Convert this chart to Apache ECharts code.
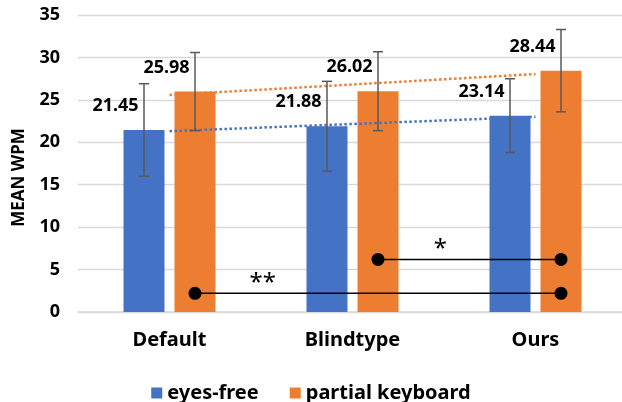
<!DOCTYPE html>
<html>
<head>
<meta charset="utf-8">
<script src="https://cdn.jsdelivr.net/npm/echarts@6/dist/echarts.min.js"></script>
<style>
  html, body { margin: 0; padding: 0; background: #fff; }
  #chart { width: 622px; height: 402px; }
</style>
</head>
<body>
<div id="chart"></div>
<script>
const categories = ['Default', 'Blindtype', 'Ours']
const eyesFree = [21.45, 21.88, 23.14]
const partialKeyboard = [25.98, 26.02, 28.44]
const eyesFreeErr = [5.45, 5.3, 4.35]
const partialErr = [4.6, 4.65, 4.85]
// linear trend end points
const eyesFreeTrend = [21.31, null, 23.0]
const partialTrend = [25.58, null, 28.04]
// [from category, to category, y value, star position in category units]
const sigPairs = [[0, 2, 2.2, 0.51], [1, 2, 6.2, 1.48]]
const sigMarks = ['**', '*']

const BLUE = '#4472C4'
const ORANGE = '#ED7D31'
const BAR_W = 41
const BAR_GAP = 10
const SHIFT = (BAR_W + BAR_GAP) / 2
const FONT = '"Noto Sans", sans-serif'

const chart = echarts.init(document.getElementById('chart'))

function errorBars(shift) {
  return function (params, api) {
    const i = api.value(0)
    const x = api.coord([i, 0])[0] + shift
    const lo = api.coord([i, api.value(1)])[1]
    const hi = api.coord([i, api.value(2)])[1]
    const style = { stroke: '#595959', lineWidth: 1.5 }
    return {
      type: 'group',
      children: [
        { type: 'line', shape: { x1: x, y1: lo, x2: x, y2: hi }, style },
        { type: 'line', shape: { x1: x - 5, y1: hi, x2: x + 5, y2: hi }, style },
        { type: 'line', shape: { x1: x - 5, y1: lo, x2: x + 5, y2: lo }, style }
      ]
    }
  }
}

function sigBracket(params, api) {
  const y = api.value(2)
  const a = api.coord([api.value(0), y])
  const b = api.coord([api.value(1), y])
  const c0 = api.coord([0, y])[0]
  const c1 = api.coord([1, y])[0]
  const ax = a[0] + SHIFT
  const bx = b[0] + SHIFT
  const starX = c0 + api.value(3) * (c1 - c0)
  return {
    type: 'group',
    children: [
      { type: 'line', shape: { x1: ax, y1: a[1], x2: bx, y2: b[1] }, style: { stroke: '#000', lineWidth: 1.5 } },
      { type: 'circle', shape: { cx: ax, cy: a[1], r: 6.5 }, style: { fill: '#000' } },
      { type: 'circle', shape: { cx: bx, cy: b[1], r: 6.5 }, style: { fill: '#000' } },
      {
        type: 'text',
        x: starX,
        y: a[1] - 10,
        style: {
          text: sigMarks[params.dataIndex],
          fontSize: 24,
          fontFamily: FONT,
          fill: '#000',
          align: 'center',
          verticalAlign: 'middle'
        }
      }
    ]
  }
}

const barLabel = {
  show: true,
  position: 'top',
  offset: [-28.5, -10],
  fontSize: 18,
  fontWeight: 'bold',
  fontFamily: FONT,
  color: '#000',
  formatter: p => p.value.toFixed(2)
}

chart.setOption({
  animation: false,
  textStyle: { fontFamily: FONT },
  grid: { left: 78, right: -5, top: 15, bottom: 90, outerBoundsMode: 'none' },
  legend: {
    data: ['eyes-free', 'partial keyboard'],
    top: 378,
    left: 'center',
    icon: 'rect',
    itemWidth: 11,
    itemHeight: 11,
    itemGap: 31,
    textStyle: { fontSize: 20, fontWeight: 'bold', color: '#000', fontFamily: FONT }
  },
  xAxis: {
    type: 'category',
    data: categories,
    axisTick: { show: false },
    axisLine: { lineStyle: { color: '#d9d9d9', width: 1.5 } },
    axisLabel: { fontSize: 20, fontWeight: 'bold', color: '#000', margin: 18, fontFamily: FONT }
  },
  yAxis: {
    type: 'value',
    min: 0,
    max: 35,
    interval: 5,
    name: 'MEAN WPM',
    nameLocation: 'middle',
    nameGap: 50,
    nameTextStyle: { fontSize: 17, fontWeight: 'bold', color: '#000', fontFamily: FONT, padding: [0, 28, 0, 0] },
    axisLabel: { fontSize: 18, fontWeight: 'bold', color: '#000', margin: 18, fontFamily: FONT },
    splitLine: { lineStyle: { color: '#d9d9d9', width: 1.3 } }
  },
  series: [
    {
      name: 'eyes-free',
      type: 'bar',
      data: eyesFree,
      barWidth: BAR_W,
      barGap: (BAR_GAP / BAR_W * 100) + '%',
      itemStyle: { color: BLUE },
      label: barLabel,
      z: 2
    },
    {
      name: 'partial keyboard',
      type: 'bar',
      data: partialKeyboard,
      barWidth: BAR_W,
      itemStyle: { color: ORANGE },
      label: barLabel,
      z: 2
    },
    {
      type: 'line',
      data: eyesFreeTrend,
      connectNulls: true,
      symbol: 'none',
      lineStyle: { color: BLUE, width: 2.5, type: [2.5, 2.5] },
      z: 3
    },
    {
      type: 'line',
      data: partialTrend,
      connectNulls: true,
      symbol: 'none',
      lineStyle: { color: ORANGE, width: 2.5, type: [2.5, 2.5] },
      z: 3
    },
    {
      type: 'custom',
      renderItem: errorBars(-SHIFT),
      data: eyesFree.map((v, i) => [i, v - eyesFreeErr[i], v + eyesFreeErr[i]]),
      encode: { x: 0, y: [1, 2] },
      z: 4
    },
    {
      type: 'custom',
      renderItem: errorBars(SHIFT),
      data: partialKeyboard.map((v, i) => [i, v - partialErr[i], v + partialErr[i]]),
      encode: { x: 0, y: [1, 2] },
      z: 4
    },
    {
      type: 'custom',
      renderItem: sigBracket,
      data: sigPairs,
      encode: { x: 0, y: 2 },
      z: 5
    }
  ]
})
</script>
</body>
</html>
